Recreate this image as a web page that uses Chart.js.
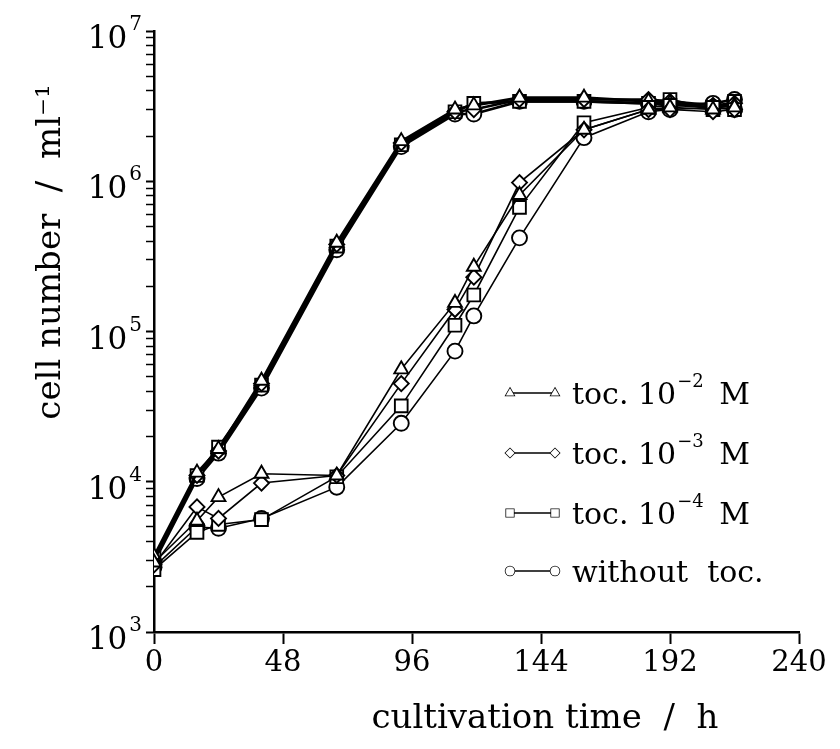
<!DOCTYPE html>
<html>
<head>
<meta charset="utf-8">
<script src="https://cdn.jsdelivr.net/npm/chart.js@4.4.1/dist/chart.umd.min.js"></script>
<style>
  html, body { margin: 0; padding: 0; background: #fff; }
  #wrap { width: 840px; height: 749px; }
</style>
</head>
<body>
<div id="wrap"><canvas id="cellChart" width="840" height="749"></canvas></div>
<script>
// sampling times (h)
const hours = [0, 16, 24, 40, 68, 92, 112, 119, 136, 160, 184, 192, 208, 216];

// fast-growing group (upper curve)
const fastTri    = [3.2e3, 1.15e4, 1.65e4, 4.7e4, 3.9e5, 1.85e6, 3.0e6, 3.2e6, 3.6e6, 3.6e6, 3.4e6, 3.3e6, 3.1e6, 3.2e6];
const fastDia    = [3.0e3, 1.1e4, 1.6e4, 4.5e4, 3.8e5, 1.8e6, 2.9e6, 3.0e6, 3.5e6, 3.5e6, 3.5e6, 3.4e6, 3.2e6, 3.3e6];
const fastSquare = [3.1e3, 1.1e4, 1.7e4, 4.4e4, 3.7e5, 1.75e6, 2.9e6, 3.3e6, 3.4e6, 3.4e6, 3.3e6, 3.5e6, 3.0e6, 3.4e6];
const fastCircle = [2.9e3, 1.05e4, 1.55e4, 4.2e4, 3.5e5, 1.7e6, 2.8e6, 2.8e6, 3.4e6, 3.4e6, 3.3e6, 3.2e6, 3.3e6, 3.5e6];

// slow group (lower curve)
const slowTri    = [2.9e3, 5.5e3, 7.9e3, 1.13e4, 1.1e4, 5.6e4, 1.55e5, 2.7e5, 8.1e5, 2.2e6, 3.0e6, 3.1e6, 3.0e6, 3.1e6];
const slowDia    = [2.8e3, 6.8e3, 5.7e3, 9.8e3, 1.1e4, 4.5e4, 1.4e5, 2.3e5, 9.8e5, 2.2e6, 3.0e6, 3.0e6, 2.9e6, 3.0e6];
const slowSquare = [2.6e3, 4.6e3, 5.2e3, 5.6e3, 1.08e4, 3.2e4, 1.1e5, 1.75e5, 6.7e5, 2.45e6, 3.1e6, 3.2e6, 3.1e6, 3.0e6];
const slowCircle = [2.7e3, 5.0e3, 4.9e3, 5.7e3, 9.2e3, 2.45e4, 7.4e4, 1.27e5, 4.2e5, 1.95e6, 2.9e6, 3.0e6, 3.1e6, 3.0e6];

// axis ticks
const xTicks = [0, 48, 96, 144, 192, 240];
const yDecades = [1e3, 1e4, 1e5, 1e6, 1e7];
const yExponents = ['3', '4', '5', '6', '7'];
const yMinor = [2, 3, 4, 5, 6, 7, 8, 9];

// legend
const legendNames = [
  ['toc. 10', '\u22122', ' M'],
  ['toc. 10', '\u22123', ' M'],
  ['toc. 10', '\u22124', ' M'],
  ['without  toc.', '', '']
];
const markerStyles = ['triangle', 'rectRot', 'rect', 'circle'];
const markerRadius = [8, 7.5, 9, 7.5];

const xTitle = 'cultivation time  /  h';
const yTitle = 'cell number  /  ml\u207B\u00B9';

const SERIF = '"DejaVu Serif", "Liberation Serif", serif';

function toPoints(vals) {
  return hours.map((h, i) => ({ x: h, y: vals[i] }));
}

function makeSet(vals, idx, width) {
  return {
    data: toPoints(vals),
    borderColor: '#000',
    borderWidth: width,
    backgroundColor: '#fff',
    pointStyle: markerStyles[idx],
    pointRadius: markerRadius[idx],
    pointBorderWidth: 1.9,
    pointBackgroundColor: '#fff',
    pointBorderColor: '#000',
    tension: 0
  };
}

const datasets = [
  makeSet(slowTri, 0, 1.6),
  makeSet(slowDia, 1, 1.6),
  makeSet(slowSquare, 2, 1.6),
  makeSet(slowCircle, 3, 1.6),
  makeSet(fastTri, 0, 2.6),
  makeSet(fastDia, 1, 2.6),
  makeSet(fastSquare, 2, 2.6),
  makeSet(fastCircle, 3, 2.6)
];

// draws axis titles, decade labels with exponents and the inset legend
const textPlugin = {
  id: 'textPlugin',
  afterDraw(chart) {
    const ctx = chart.ctx;
    const ys = chart.scales.y;
    const area = chart.chartArea;
    ctx.save();
    ctx.fillStyle = '#000';
    ctx.textBaseline = 'alphabetic';

    // y decade labels
    yDecades.forEach((v, i) => {
      const py = ys.getPixelForValue(v);
      ctx.font = '20px ' + SERIF;
      ctx.textAlign = 'right';
      const ew = ctx.measureText(yExponents[i]).width;
      ctx.fillText(yExponents[i], area.left - 12, py - 1);
      ctx.font = '31px ' + SERIF;
      ctx.fillText('10', area.left - 14 - ew, py + 17);
    });

    // x title
    ctx.font = '34px ' + SERIF;
    ctx.textAlign = 'center';
    ctx.fillText(xTitle, 545, 728);

    // y title
    ctx.save();
    ctx.translate(60, 252);
    ctx.rotate(-Math.PI / 2);
    ctx.fillText(yTitle, 0, 0);
    ctx.restore();

    // legend
    const lx = 510, rowY = [393, 453, 513, 571];
    legendNames.forEach((parts, i) => {
      const y = rowY[i];
      ctx.strokeStyle = '#000';
      ctx.lineWidth = 1.6;
      ctx.beginPath();
      ctx.moveTo(lx, y);
      ctx.lineTo(lx + 45, y);
      ctx.stroke();
      [lx, lx + 45].forEach(px => {
        ctx.fillStyle = '#fff';
        ctx.lineWidth = 1.5;
        Chart.helpers.drawPoint(ctx, { pointStyle: markerStyles[i], radius: markerRadius[i] * 0.6, borderWidth: 1.5 }, px, y);
        ctx.fill();
      });
      ctx.fillStyle = '#000';
      ctx.textAlign = 'left';
      ctx.font = '30px ' + SERIF;
      let tx = lx + 62;
      ctx.fillText(parts[0], tx, y + 11);
      tx += ctx.measureText(parts[0]).width;
      if (parts[1]) {
        ctx.font = '18px ' + SERIF;
        ctx.fillText(parts[1], tx + 1, y - 6);
        tx += ctx.measureText(parts[1]).width + 1;
        ctx.font = '30px ' + SERIF;
        ctx.fillText(parts[2], tx + 6, y + 11);
      }
    });
    ctx.restore();
  }
};

new Chart(document.getElementById('cellChart'), {
  type: 'line',
  data: { datasets },
  options: {
    responsive: false,
    animation: false,
    layout: { padding: { left: 0, right: 41, top: 31, bottom: 0 } },
    plugins: {
      legend: { display: false },
      tooltip: { enabled: false }
    },
    scales: {
      x: {
        type: 'linear',
        min: 0,
        max: 240,
        afterBuildTicks: scale => { scale.ticks = xTicks.map(v => ({ value: v })); },
        afterFit: scale => { scale.height = 117; },
        border: { display: true, color: '#000', width: 2.5 },
        grid: { drawOnChartArea: false, drawTicks: true, tickLength: 12, color: '#000', tickWidth: 2 },
        ticks: {
          color: '#000',
          padding: 2,
          font: { family: SERIF, size: 29 },
          maxRotation: 0
        }
      },
      y: {
        type: 'logarithmic',
        min: 1e3,
        max: 1e7,
        afterBuildTicks: scale => {
          const t = [];
          yDecades.forEach((d, i) => {
            t.push({ value: d });
            if (i < yDecades.length - 1) yMinor.forEach(m => t.push({ value: d * m }));
          });
          scale.ticks = t;
        },
        afterFit: scale => { scale.width = 154; },
        border: { display: true, color: '#000', width: 2.5 },
        grid: {
          drawOnChartArea: false,
          drawTicks: true,
          tickLength: 8,
          color: '#000',
          tickWidth: ctx => (yDecades.includes(ctx.tick.value) ? 2 : 1.5)
        },
        ticks: { display: false, autoSkip: false }
      }
    }
  },
  plugins: [textPlugin]
});
</script>
</body>
</html>
